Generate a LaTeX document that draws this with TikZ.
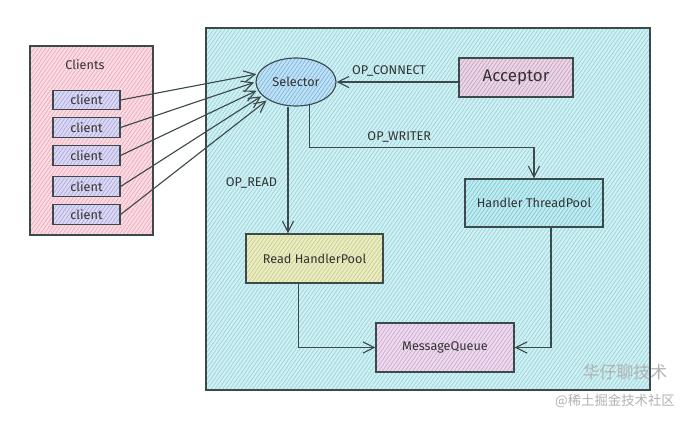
\documentclass[tikz,border=0pt]{standalone}
\usepackage{fontspec}
\setmainfont{Fira Sans}
\newfontfamily\cjk{Noto Sans CJK SC}
\usetikzlibrary{arrows.meta,patterns.meta,calc,shapes.geometric}

\definecolor{edge}{HTML}{3C4A4C}
\definecolor{pinkc}{HTML}{F0A8BA}
\definecolor{lavc}{HTML}{A8A2E0}
\definecolor{cyanc}{HTML}{8ED6DE}
\definecolor{selc}{HTML}{6CB4E4}
\definecolor{accc}{HTML}{C79CC0}
\definecolor{hpc}{HTML}{6CCAD6}
\definecolor{readc}{HTML}{CACF78}
\definecolor{mqc}{HTML}{CFA4D2}

\begin{document}
\begin{tikzpicture}[x=0.025cm, y=-0.025cm,
    every node/.style={font=\small, text=black!80},
    hatch/.style={preaction={fill=#1!40}, pattern={Lines[angle=55,distance=2.2pt,line width=0.45pt]}, pattern color=#1, draw=edge, line width=0.8pt},
    arr/.style={draw=edge, line width=0.8pt, -{Straight Barb[length=2.8mm,width=2.8mm]}}]
    \fill[white] (0,0) rectangle (693,421);

    \node[hatch=pinkc, minimum width=3.075cm, minimum height=4.725cm] (clients) at (91.5,140.5) {};
    \node (clientslbl) at (85,65) {Clients};
    \foreach \i/\y in {1/100,2/127.5,3/155.5,4/186.5,5/214.5}
        \node[hatch=lavc, minimum width=1.675cm, minimum height=0.475cm] (c\i) at (86.5,\y) {client};

    \node[hatch=cyanc, minimum width=11.1cm, minimum height=9.05cm] (server) at (428,209) {};
    \node[hatch=selc, ellipse, minimum width=2cm, minimum height=1.2cm] (sel) at (296,82) {Selector};
    \node[hatch=accc, minimum width=2.85cm, minimum height=0.975cm, font=\large] (acc) at (516,77.5) {Acceptor};
    \node[hatch=hpc, minimum width=3.45cm, minimum height=1.2cm] (hp) at (534,203) {Handler ThreadPool};
    \node[hatch=readc, minimum width=3.425cm, minimum height=1.225cm] (read) at (314.5,258.5) {Read HandlerPool};
    \node[hatch=mqc, minimum width=3.45cm, minimum height=1.225cm] (mq) at (445,347.5) {MessageQueue};

    \foreach \i/\a in {1/168,2/180,3/192,4/202,5/212}
        \draw[arr, shorten >=1pt] (c\i.east) -- (sel.\a);

    \draw[arr] (acc.west |- sel.east) -- (sel.east) node[midway, above, xshift=-6pt] {OP\_CONNECT};
    \coordinate (r0) at ($(sel.south)+(-8,0)$);
    \draw[arr] (r0) -- (r0 |- read.north) node[pos=0.6, left, xshift=-4pt] {OP\_READ};
    \draw[arr] (sel.-60) |- ($(hp.north)+(0,-31)$) node[pos=0.7, above] {OP\_WRITER} -- (hp.north);
    \draw[arr] ($(read.south)+(-16,0)$) |- (mq.west);
    \draw[arr] ($(hp.south)+(17,0)$) |- (mq.east);

    \node[font=\cjk\fontsize{12}{12}\selectfont, text=gray!60] (wm1) at (625,372) {华仔聊技术};
    \node[font=\cjk\fontsize{9.5}{10}\selectfont, text=gray!60] (wm2) at (615,401) {@稀土掘金技术社区};
\end{tikzpicture}
\end{document}
